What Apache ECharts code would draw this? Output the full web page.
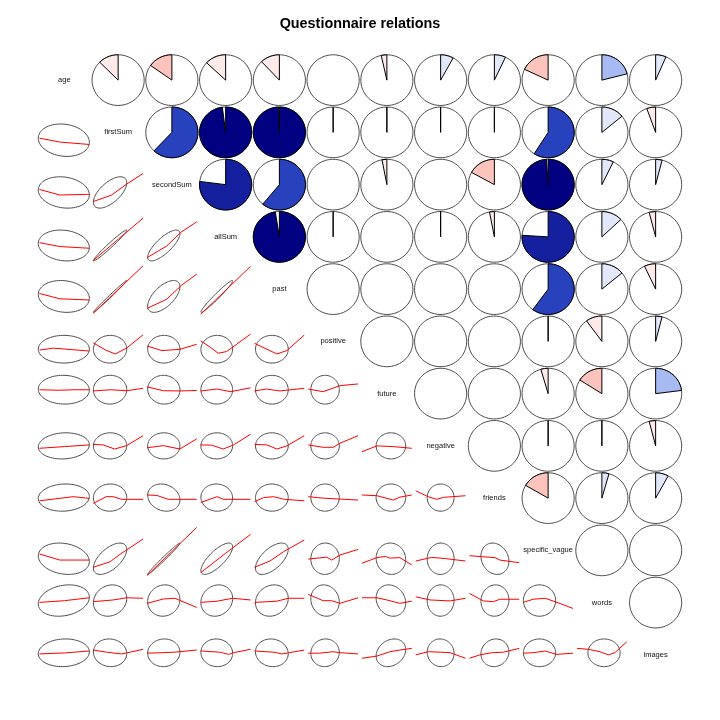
<!DOCTYPE html>
<html><head><meta charset="utf-8">
<script src="https://cdn.jsdelivr.net/npm/echarts@6/dist/echarts.min.js"></script>
<style>html,body{margin:0;padding:0;background:#fff}#c{width:720px;height:720px}</style>
</head><body><div id="c"></div>
<script>
// ---------------- DATA ----------------
const variables = ['age','firstSum','secondSum','allSum','past','positive','future','negative','friends','specific_vague','words','images'];

// correlation, upper triangle: row i holds r(i, j) for j = i+1 .. 11
const corrAge       = [-0.125, -0.152, -0.13, -0.12, 0, -0.035, 0.08, 0.07, -0.18, 0.21, 0.065];
const corrFirstSum  = [0.62, 0.98, 0.995, 0.015, 0.015, 0.015, 0.015, 0.59, 0.14, -0.055];
const corrSecondSum = [0.77, 0.61, 0, -0.03, 0, -0.17, 0.99, 0.072, 0.04];
const corrAllSum    = [0.975, 0.015, 0, 0.015, -0.03, 0.76, 0.13, -0.04];
const corrPast      = [0, 0, 0, 0, 0.6, 0.14, -0.07];
const corrPositive  = [0, 0, 0, 0.015, -0.10, 0.04];
const corrFuture    = [0, 0, -0.045, -0.16, 0.23];
const corrNegative  = [0, 0.015, 0.015, -0.04];
const corrFriends   = [-0.166, 0.044, 0.08];
const corrSpecific  = [0, 0];
const corrWords     = [0];
const corrUpper = [corrAge, corrFirstSum, corrSecondSum, corrAllSum, corrPast, corrPositive,
                   corrFuture, corrNegative, corrFriends, corrSpecific, corrWords, []];

// per variable: mean and (ellipse radius * sd), as fractions of the data range (min=0, max=1)
const varMean   = [0.489, 0.338, 0.338, 0.322, 0.349, 0.338, 0.581, 0.500, 0.511, 0.327, 0.543, 0.543];
const varSpread = [0.513, 0.335, 0.324, 0.319, 0.329, 0.286, 0.297, 0.270, 0.281, 0.324, 0.324, 0.286];

// lowess smooth (x = column variable, y = row variable), fractions of data range
const lowessFirstSum = [
 [[0,0.38],[0.41,0.30],[1,0.25]] ];
const lowessSecondSum = [
 [[0,0.40],[0.41,0.285],[1,0.30]],
 [[0,0.15],[0.37,0.285],[0.67,0.51],[1,0.73]] ];
const lowessAllSum = [
 [[0,0.38],[0.41,0.30],[1,0.265]],
 [[0,0.01],[0.5,0.45],[1,0.885]],
 [[0,0.07],[0.395,0.31],[0.68,0.595],[1,0.81]] ];
const lowessPast = [
 [[0,0.41],[0.41,0.30],[1,0.275]],
 [[0,0.0],[1,0.98]],
 [[0,0.10],[0.395,0.29],[0.7,0.585],[1,0.81]],
 [[0,-0.02],[1,0.97]] ];
const lowessPositive = [
 [[0,0.32],[0.28,0.36],[1,0.30]],
 [[0,0.47],[0.25,0.32],[0.44,0.24],[0.67,0.36],[1,0.635]],
 [[0,0.405],[0.3,0.31],[0.66,0.335],[1,0.44]],
 [[0,0.51],[0.19,0.38],[0.35,0.255],[0.52,0.29],[1,0.65]],
 [[0,0.46],[0.45,0.24],[0.65,0.31],[1,0.63]] ];
const lowessFuture = [
 [[0,0.58],[0.4,0.57],[0.7,0.58],[1,0.58]],
 [[0,0.555],[0.35,0.58],[0.67,0.56],[1,0.61]],
 [[0,0.64],[0.33,0.56],[0.66,0.555],[1,0.565]],
 [[0,0.555],[0.33,0.595],[0.6,0.54],[1,0.62]],
 [[0,0.555],[0.24,0.595],[0.51,0.555],[1,0.61]],
 [[0,0.595],[0.3,0.54],[0.64,0.665],[1,0.70]] ];
const lowessNegative = [
 [[0,0.45],[0.5,0.485],[1,0.52]],
 [[0,0.53],[0.2,0.52],[0.43,0.435],[0.67,0.505],[1,0.71]],
 [[0,0.46],[0.33,0.505],[0.66,0.435],[1,0.645]],
 [[0,0.52],[0.22,0.515],[0.45,0.435],[0.66,0.52],[1,0.74]],
 [[0,0.53],[0.25,0.52],[0.45,0.435],[0.65,0.50],[1,0.71]],
 [[0,0.52],[0.3,0.47],[0.5,0.47],[0.64,0.555],[1,0.71]],
 [[0,0.38],[0.3,0.50],[0.63,0.485],[1,0.45]] ];
const lowessFriends = [
 [[0,0.445],[0.68,0.53],[1,0.495]],
 [[0,0.39],[0.26,0.53],[0.4,0.53],[0.57,0.475],[1,0.475]],
 [[0,0.565],[0.2,0.555],[0.43,0.475],[1,0.475]],
 [[0,0.41],[0.33,0.53],[0.46,0.475],[1,0.475]],
 [[0,0.425],[0.18,0.51],[0.38,0.53],[0.6,0.475],[1,0.445]],
 [[0,0.53],[0.3,0.5],[1,0.46]],
 [[0,0.565],[0.3,0.55],[0.63,0.46],[0.76,0.52],[1,0.565]],
 [[0,0.65],[0.25,0.53],[0.42,0.475],[0.555,0.515],[1,0.55]] ];
const lowessSpecific = [
 [[0,0.425],[0.41,0.30],[1,0.30]],
 [[0,0.15],[0.34,0.265],[0.54,0.42],[1,0.735]],
 [[0,-0.02],[1,0.975]],
 [[0,0.04],[0.5,0.44],[1,0.83]],
 [[0,0.15],[0.31,0.28],[0.58,0.47],[1,0.715]],
 [[0,0.32],[0.37,0.36],[0.47,0.30],[0.64,0.405],[1,0.52]],
 [[0,0.235],[0.3,0.35],[0.47,0.375],[0.56,0.34],[0.76,0.35],[1,0.2]],
 [[0,0.28],[0.32,0.355],[0.6,0.33],[1,0.28]],
 [[0,0.39],[0.24,0.37],[0.51,0.35],[0.61,0.30],[1,0.245]] ];
const lowessWords = [
 [[0,0.505],[0.5,0.54],[1,0.60]],
 [[0,0.52],[0.4,0.555],[0.67,0.60],[1,0.59]],
 [[0,0.485],[0.33,0.575],[0.56,0.59],[1,0.40]],
 [[0,0.505],[0.33,0.53],[0.64,0.59],[1,0.555]],
 [[0,0.505],[0.45,0.53],[0.68,0.59],[1,0.59]],
 [[0,0.67],[0.3,0.54],[0.47,0.54],[0.64,0.485],[1,0.60]],
 [[0,0.60],[0.3,0.60],[0.5,0.555],[0.76,0.485],[1,0.53]],
 [[0,0.62],[0.29,0.555],[0.69,0.535],[1,0.59]],
 [[0,0.69],[0.28,0.535],[0.48,0.52],[0.61,0.57],[1,0.57]],
 [[0,0.505],[0.2,0.57],[0.44,0.59],[0.64,0.52],[1,0.38]] ];
const lowessImages = [
 [[0,0.52],[0.5,0.54],[1,0.58]],
 [[0,0.60],[0.27,0.555],[0.57,0.52],[0.67,0.54],[1,0.615]],
 [[0,0.535],[0.45,0.55],[0.6,0.56],[1,0.60]],
 [[0,0.58],[0.39,0.555],[0.56,0.51],[0.66,0.545],[1,0.615]],
 [[0,0.58],[0.39,0.555],[0.55,0.52],[0.7,0.545],[1,0.60]],
 [[0,0.535],[0.23,0.535],[0.5,0.565],[0.64,0.545],[1,0.52]],
 [[0,0.43],[0.3,0.475],[0.56,0.565],[0.76,0.60],[1,0.635]],
 [[0,0.50],[0.25,0.565],[0.5,0.555],[0.69,0.545],[1,0.43]],
 [[0,0.43],[0.21,0.5],[0.45,0.545],[0.68,0.555],[1,0.635]],
 [[0,0.535],[0.2,0.545],[0.44,0.58],[0.67,0.51],[1,0.535]],
 [[0,0.635],[0.23,0.615],[0.46,0.565],[0.63,0.50],[0.76,0.545],[1,0.77]] ];
const lowessRows = [[], lowessFirstSum, lowessSecondSum, lowessAllSum, lowessPast, lowessPositive,
                    lowessFuture, lowessNegative, lowessFriends, lowessSpecific, lowessWords, lowessImages];

// ---------------- STYLE ----------------
const rampAnchors = [[255,0,0],[250,128,114],[255,255,255],[65,105,225],[0,0,128]];
const NCOL = 14;
const palette = [];
for (let k = 0; k < NCOL; k++) {
  const t = k / (NCOL - 1) * (rampAnchors.length - 1);
  const a = Math.min(Math.floor(t), rampAnchors.length - 2), f = t - a;
  const c = rampAnchors[a].map((v, q) => Math.round(v + (rampAnchors[a + 1][q] - v) * f));
  palette.push('rgb(' + c.join(',') + ')');
}
function colorFor(r) {
  let idx = Math.ceil((r + 1) / (2 / NCOL));
  if (idx < 1) idx = 1; if (idx > NCOL) idx = NCOL;
  return palette[idx - 1];
}
function corr(i, j) { const a = Math.min(i, j), b = Math.max(i, j); return corrUpper[a][b - a - 1]; }
const EXP = 0.04; // R axis expansion
function P(api, i, j, u, v) {
  return api.coord([j + (u + EXP) / (1 + 2 * EXP), i + 1 - (v + EXP) / (1 + 2 * EXP)]);
}

const N = variables.length;
const pieData = [], lowerData = [], diagData = [];
for (let i = 0; i < N; i++) for (let j = 0; j < N; j++) {
  const item = [j + 0.5, i + 0.5, i, j];
  if (j > i) pieData.push(item); else if (j < i) lowerData.push(item); else diagData.push(item);
}

function renderPie(params, api) {
  const i = api.value(2), j = api.value(3);
  const r = corr(i, j);
  const c = api.coord([j + 0.5, i + 0.5]);
  const sz = api.size([1, 1]);
  const rx = sz[0] / 2 * 0.97, ry = sz[1] / 2 * 0.97;
  const circ = [];
  for (let k = 0; k < 60; k++) { const a = 2 * Math.PI * k / 59; circ.push([c[0] + Math.cos(a) * rx, c[1] - Math.sin(a) * ry]); }
  const children = [{ type: 'polyline', shape: { points: circ }, style: { stroke: '#4D4D4D', fill: 'none', lineWidth: 1 } }];
  const seg = Math.round(60 * Math.abs(r));
  if (seg > 0) {
    const pts = [];
    for (let k = 0; k < seg; k++) {
      const a = Math.PI / 2 + (seg === 1 ? 0 : (-2 * Math.PI * r) * k / (seg - 1));
      pts.push([c[0] + Math.cos(a) * rx, c[1] - Math.sin(a) * ry]);
    }
    pts.push([c[0], c[1]]); pts.push(pts[0]);
    children.push({ type: 'polygon', shape: { points: pts }, style: { fill: colorFor(r), stroke: '#000', lineWidth: 1 } });
  }
  return { type: 'group', children };
}

function renderLower(params, api) {
  const i = api.value(2), j = api.value(3);
  const r = corr(i, j);
  const mx = varMean[j], my = varMean[i], sx = varSpread[j], sy = varSpread[i];
  const lo = -EXP, hi = 1 + EXP;
  const ell = [];
  const q = Math.sqrt(1 - r * r);
  for (let k = 0; k < 75; k++) {
    const a = 2 * Math.PI * k / 74;
    let u = mx + sx * Math.cos(a);
    let v = my + sy * (r * Math.cos(a) + q * Math.sin(a));
    u = Math.min(hi, Math.max(lo, u)); v = Math.min(hi, Math.max(lo, v));
    ell.push(P(api, i, j, u, v));
  }
  const line = lowessRows[i][j].map(p => P(api, i, j, p[0], p[1]));
  return { type: 'group', children: [
    { type: 'polyline', shape: { points: ell }, style: { stroke: '#4D4D4D', fill: 'none', lineWidth: 1 } },
    { type: 'polyline', shape: { points: line }, style: { stroke: '#FF0000', fill: 'none', lineWidth: 1 } }
  ]};
}

function renderDiag(params, api) {
  const i = api.value(2);
  const c = api.coord([i + 0.5, i + 0.5]);
  return { type: 'text', style: { text: variables[i], x: c[0], y: c[1], align: 'center', verticalAlign: 'middle',
    textAlign: 'center', textVerticalAlign: 'middle', fontSize: 7.5, fontFamily: 'Liberation Sans', fill: '#111' } };
}

const chart = echarts.init(document.getElementById('c'));
chart.setOption({
  animation: false,
  backgroundColor: '#ffffff',
  title: { text: 'Questionnaire relations', left: 'center', top: 12,
    textStyle: { fontSize: 14.4, fontWeight: 'bold', fontFamily: 'Liberation Sans', color: '#000' } },
  grid: { left: 37.5, top: 54, width: 645, height: 627 },
  xAxis: { type: 'value', min: 0, max: 12, show: false },
  yAxis: { type: 'value', min: 0, max: 12, inverse: true, show: false },
  series: [
    { type: 'custom', silent: true, renderItem: renderPie, data: pieData, encode: { x: 0, y: 1 }, clip: false },
    { type: 'custom', silent: true, renderItem: renderLower, data: lowerData, encode: { x: 0, y: 1 }, clip: false },
    { type: 'custom', silent: true, renderItem: renderDiag, data: diagData, encode: { x: 0, y: 1 }, clip: false }
  ]
});
</script>
</body></html>
